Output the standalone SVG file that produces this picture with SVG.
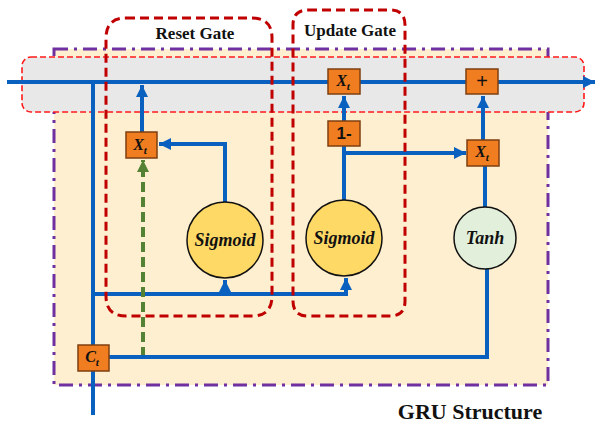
<svg xmlns="http://www.w3.org/2000/svg" width="608" height="429" viewBox="0 0 608 429">
<style>
.ln{fill:none;stroke:#0A60BE;stroke-width:4}
.box{fill:#F07D20;stroke:#7F3F10;stroke-width:1.5}
.serif{font-family:'Liberation Serif','DejaVu Serif',serif}
.bt{font-weight:bold;font-style:italic;font-size:16px;fill:#111;text-anchor:middle}
.gate{fill:none;stroke:#C00000;stroke-width:3;stroke-dasharray:9 5}
.lbl{font-weight:bold;fill:#111;text-anchor:middle}
.ct{font-weight:bold;font-style:italic;font-size:18px;fill:#111;text-anchor:middle}
</style>
<defs>
<marker id="ab" markerUnits="userSpaceOnUse" markerWidth="14" markerHeight="14" refX="12" refY="6" orient="auto">
<path d="M0,0 L12,6 L0,12 Z" fill="#0A60BE"/>
</marker>
<marker id="ag" markerUnits="userSpaceOnUse" markerWidth="14" markerHeight="14" refX="12" refY="6" orient="auto">
<path d="M0,0 L12,6 L0,12 Z" fill="#548235"/>
</marker>
</defs>
<rect x="0" y="0" width="608" height="429" fill="#FFFFFF"/>
<g id="gru-structure">
<rect x="54" y="49" width="494" height="336" fill="#FDEFD0" stroke="#7030A0" stroke-width="3" stroke-dasharray="14 6 3 6"/>
<text class="lbl serif" x="470" y="419" font-size="22">GRU Structure</text>
</g>
<g id="state-band">
<rect x="22" y="57" width="562" height="55" rx="9" fill="#E8E8E8" stroke="#FF1A1A" stroke-width="1.6" stroke-dasharray="6 3"/>
</g>
<g id="connectors">
<path class="ln" d="M7,82 H595" marker-end="url(#ab)"/>
<path class="ln" d="M93,82 V415"/>
<path class="ln" d="M93,294 H346 V278" marker-end="url(#ab)"/>
<path class="ln" d="M225,294 V280" marker-end="url(#ab)"/>
<path class="ln" d="M225,203 V144 H159" marker-end="url(#ab)"/>
<path class="ln" d="M142,132 V85" marker-end="url(#ab)"/>
<path d="M143,357 V160" fill="none" stroke="#548235" stroke-width="4" stroke-dasharray="10 5" marker-end="url(#ag)"/>
<path class="ln" d="M344,200 V146"/>
<path class="ln" d="M344,121 V96" marker-end="url(#ab)"/>
<path class="ln" d="M344,153 H466" marker-end="url(#ab)"/>
<path class="ln" d="M483,140 V96" marker-end="url(#ab)"/>
<path class="ln" d="M485,207 V166"/>
<path class="ln" d="M487,268 V357 H109"/>
</g>
<g id="reset-gate">
<path class="gate" d="M126,18 H252 Q272,18 272,38 V296 Q272,316 252,316 H126 Q106,316 106,296 V38 Q106,18 126,18 Z"/>
<text class="lbl serif" x="195" y="39" font-size="17">Reset Gate</text>
</g>
<g id="update-gate">
<path class="gate" d="M308,10 H390 Q405,10 405,25 V301 Q405,316 390,316 H308 Q293,316 293,301 V25 Q293,10 308,10 Z"/>
<text class="lbl serif" x="350" y="36" font-size="17">Update Gate</text>
</g>
<g id="reset-mult">
<rect class="box" x="126" y="132" width="31" height="26"/>
<text class="bt serif" x="140" y="150">X<tspan font-size="11" dy="4">t</tspan></text>
</g>
<g id="reset-sigmoid">
<circle cx="225" cy="240" r="38" fill="#FFD966" stroke="#111" stroke-width="1.5"/>
<text class="ct serif" x="225" y="246">Sigmoid</text>
</g>
<g id="update-sigmoid">
<circle cx="344" cy="238" r="38" fill="#FFD966" stroke="#111" stroke-width="1.5"/>
<text class="ct serif" x="344" y="244">Sigmoid</text>
</g>
<g id="update-mult">
<rect class="box" x="328" y="69" width="32" height="25"/>
<text class="bt serif" x="343" y="86">X<tspan font-size="11" dy="4">t</tspan></text>
</g>
<g id="one-minus">
<rect class="box" x="328" y="121" width="32" height="25"/>
<text class="lbl" x="344" y="139" font-size="17" font-family="'Liberation Sans', sans-serif">1-</text>
</g>
<g id="tanh-mult">
<rect class="box" x="467" y="140" width="32" height="26"/>
<text class="bt serif" x="482" y="157">X<tspan font-size="11" dy="4">t</tspan></text>
</g>
<g id="add">
<rect class="box" x="466" y="69" width="32" height="25"/>
<text x="482" y="88" font-family="'Liberation Sans', sans-serif" font-size="20" fill="#111" text-anchor="middle">+</text>
</g>
<g id="tanh">
<circle cx="485" cy="238" r="31" fill="#E2EFDA" stroke="#111" stroke-width="1.5"/>
<text class="ct serif" x="485" y="244">Tanh</text>
</g>
<g id="ct">
<rect class="box" x="78" y="345" width="31" height="26"/>
<text class="bt serif" x="92" y="362">C<tspan font-size="11" dy="4">t</tspan></text>
</g>
</svg>
